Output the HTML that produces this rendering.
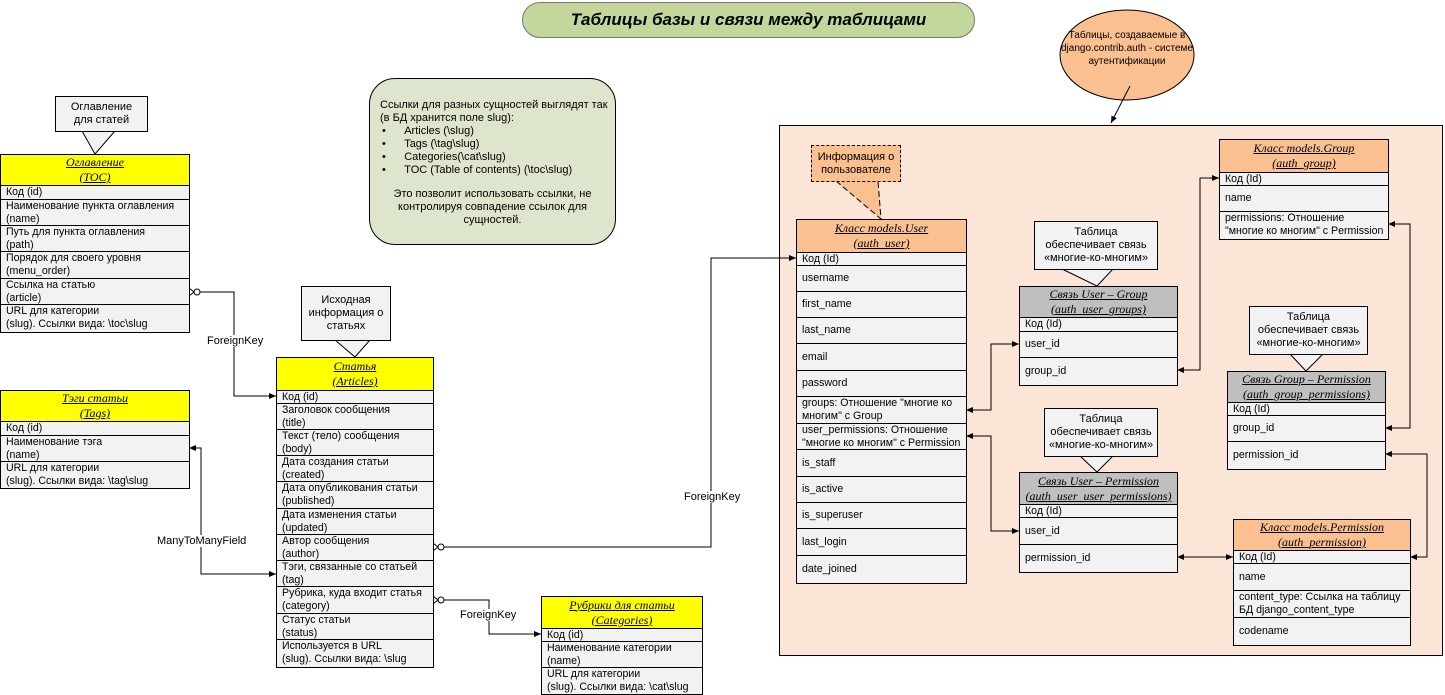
<!DOCTYPE html>
<html><head><meta charset="utf-8">
<style>
body{margin:0;width:1445px;height:695px;background:#fff;position:relative;overflow:hidden;font-family:"Liberation Sans",Arial,sans-serif;font-size:11px;color:#000}
.a{position:absolute;box-sizing:border-box}
.t{position:absolute;border:1px solid #000;background:#f2f2f2;box-sizing:border-box}
.t>div{box-sizing:border-box;border-bottom:1px solid #000;padding:0 0 0 5px;line-height:13px;overflow:hidden;white-space:nowrap;font-size:10.6px}
.t>div:last-child{border-bottom:none}
.t>.h{padding:0;text-align:center;font-family:"Liberation Serif",serif;font-style:italic;text-decoration:underline;font-size:12px;line-height:15px;display:flex;flex-direction:column;justify-content:center}
.y{background:#ffff00}.o{background:#fac090}.g{background:#bfbfbf}
.c{display:flex;align-items:center}
.cb{position:absolute;border:1px solid #000;background:#f2f2f2;text-align:center;line-height:13px;box-sizing:border-box;display:flex;align-items:center;justify-content:center}
.lbl{position:absolute;background:#fff;font-size:11px;line-height:12px}
</style></head><body>

<div class="a" style="left:522px;top:2px;width:453px;height:36px;border:1px solid #777;border-radius:18px;background:#c3d69b;text-align:center;line-height:34px;font-weight:bold;font-style:italic;font-size:17px">Таблицы базы и связи между таблицами</div>

<div class="a" style="left:779px;top:125px;width:664px;height:531px;border:1px solid #000;background:#fbe5d6"></div>

<div class="a" style="left:369px;top:78px;width:247px;height:167px;border:1px solid #000;border-radius:26px;background:#dde6cc;padding:20px 0 0 10px;line-height:13px;font-size:11px">
Ссылки для разных сущностей выглядят так<br>(в БД хранится поле slug):<br>
<span style="padding-left:2px">•&nbsp;&nbsp;&nbsp;&nbsp;&nbsp;&nbsp;Articles (\slug)</span><br>
<span style="padding-left:2px">•&nbsp;&nbsp;&nbsp;&nbsp;&nbsp;&nbsp;Tags (\tag\slug)</span><br>
<span style="padding-left:2px">•&nbsp;&nbsp;&nbsp;&nbsp;&nbsp;&nbsp;Categories(\cat\slug)</span><br>
<span style="padding-left:2px">•&nbsp;&nbsp;&nbsp;&nbsp;&nbsp;&nbsp;TOC (Table of contents) (\toc\slug)</span><br>
<div style="text-align:center;margin-top:11px;padding-right:10px">Это позволит использовать ссылки, не контролируя совпадение ссылок для сущностей.</div>
</div>

<svg class="a" style="left:0;top:0" width="1445" height="695">
<defs><marker id="ar" markerWidth="8" markerHeight="8" refX="7" refY="4" orient="auto" markerUnits="userSpaceOnUse"><path d="M0,1 L7,4 L0,7z" fill="#000"/></marker></defs>
<ellipse cx="1127" cy="55" rx="67" ry="45" fill="#fac090" stroke="#000"/>
<line x1="1130" y1="86" x2="1111" y2="123" stroke="#000" marker-end="url(#ar)"/>
<polygon points="82,131 95,154 115,131" fill="#f2f2f2" stroke="#000"/>
<polygon points="335,340 355,357 370,340" fill="#f2f2f2" stroke="#000"/>
<polygon points="836,181 881,219 878,181" fill="#fac090" stroke="#000" stroke-dasharray="6,3"/>
<polygon points="1062,269 1097,286 1113,269" fill="#f2f2f2" stroke="#000"/>
<polygon points="1290,354 1306,371 1323,354" fill="#f2f2f2" stroke="#000"/>
<polygon points="1080,456 1097,472 1113,456" fill="#f2f2f2" stroke="#000"/>
<g fill="none" stroke="#000">
<polyline points="194,292 234,292 234,396 276,396" marker-end="url(#ar)"/>
<polyline points="276,574 201,574 201,448 189,448" marker-end="url(#ar)"/>
<line x1="201" y1="574" x2="276" y2="574" marker-end="url(#ar)"/>
<polyline points="438,547 711,547 711,258 796,258" marker-end="url(#ar)"/>
<polyline points="438,600 489,600 489,634 541,634" marker-end="url(#ar)"/>
<polyline points="1019,344 991,344 991,410 966,410" marker-end="url(#ar)"/>
<line x1="991" y1="344" x2="1019" y2="344" marker-end="url(#ar)"/>
<polyline points="1019,531 991,531 991,436 966,436" marker-end="url(#ar)"/>
<line x1="991" y1="531" x2="1019" y2="531" marker-end="url(#ar)"/>
<polyline points="1219,178 1200,178 1200,370 1177,370" marker-end="url(#ar)"/>
<line x1="1200" y1="178" x2="1219" y2="178" marker-end="url(#ar)"/>
<polyline points="1385,428 1410,428 1410,224 1388,224" marker-end="url(#ar)"/>
<line x1="1410" y1="428" x2="1385" y2="428" marker-end="url(#ar)"/>
<polyline points="1410,557 1427,557 1427,454 1385,454" marker-end="url(#ar)"/>
<line x1="1427" y1="557" x2="1410" y2="557" marker-end="url(#ar)"/>
<line x1="1205" y1="557" x2="1177" y2="557" marker-end="url(#ar)"/>
<line x1="1205" y1="557" x2="1233" y2="557" marker-end="url(#ar)"/>
<circle cx="197" cy="292" r="3" fill="#fff"/><path d="M189,288 L194,292 L189,296"/>
<circle cx="441" cy="547" r="3" fill="#fff"/><path d="M433,543 L438,547 L433,551"/>
<circle cx="441" cy="600" r="3" fill="#fff"/><path d="M433,596 L438,600 L433,604"/>
</g>
</svg>
<div class="lbl" style="left:207px;top:335px">ForeignKey</div>
<div class="lbl" style="left:157px;top:535px">ManyToManyField</div>
<div class="lbl" style="left:684px;top:491px">ForeignKey</div>
<div class="lbl" style="left:460px;top:609px">ForeignKey</div>
<div class="a" style="left:1057px;top:29px;width:140px;text-align:center;font-size:10px;line-height:13px">Таблицы, создаваемые в<br>django.contrib.auth - системе<br>аутентификации</div>

<div class="cb" style="left:55px;top:96px;width:93px;height:36px">Оглавление<br>для статей</div>
<div class="cb" style="left:301px;top:286px;width:90px;height:55px">Исходная<br>информация о<br>статьях</div>
<div class="cb" style="left:811px;top:145px;width:90px;height:37px;background:#fac090;border:1px dashed #000">Информация о<br>пользователе</div>
<div class="cb" style="left:1034px;top:221px;width:124px;height:49px">Таблица<br>обеспечивает связь<br>«многие-ко-многим»</div>
<div class="cb" style="left:1249px;top:306px;width:119px;height:49px">Таблица<br>обеспечивает связь<br>«многие-ко-многим»</div>
<div class="cb" style="left:1044px;top:408px;width:114px;height:49px">Таблица<br>обеспечивает связь<br>«многие-ко-многим»</div>

<div class="t" style="left:0;top:154px;width:190px">
<div class="h y" style="height:31px"><span>Оглавление</span><span>(TOC)</span></div>
<div style="height:14px">Код (id)</div>
<div style="height:26px">Наименование пункта оглавления<br>(name)</div>
<div style="height:26px">Путь для пункта оглавления<br>(path)</div>
<div style="height:27px">Порядок для своего уровня<br>(menu_order)</div>
<div style="height:26px">Ссылка на статью<br>(article)</div>
<div style="height:27px">URL для категории<br>(slug). Ссылки вида: \toc\slug</div>
</div>

<div class="t" style="left:0;top:390px;width:190px">
<div class="h y" style="height:31px"><span>Тэги статьи</span><span>(Tags)</span></div>
<div style="height:14px">Код (id)</div>
<div style="height:26px">Наименование тэга<br>(name)</div>
<div style="height:26px">URL для категории<br>(slug). Ссылки вида: \tag\slug</div>
</div>

<div class="t" style="left:276px;top:357px;width:158px">
<div class="h y" style="height:33px"><span>Статья</span><span>(Articles)</span></div>
<div style="height:13px">Код (id)</div>
<div style="height:26px">Заголовок сообщения<br>(title)</div>
<div style="height:26px">Текст (тело) сообщения<br>(body)</div>
<div style="height:26px">Дата создания статьи<br>(created)</div>
<div style="height:27px">Дата опубликования статьи<br>(published)</div>
<div style="height:26px">Дата изменения статьи<br>(updated)</div>
<div style="height:26px">Автор сообщения<br>(author)</div>
<div style="height:26px">Тэги, связанные со статьей<br>(tag)</div>
<div style="height:27px">Рубрика, куда входит статья<br>(category)</div>
<div style="height:26px">Статус статьи<br>(status)</div>
<div style="height:27px">Используется в URL<br>(slug). Ссылки вида: \slug</div>
</div>

<div class="t" style="left:541px;top:596px;width:162px">
<div class="h y" style="height:32px"><span>Рубрики для статьи</span><span>(Categories)</span></div>
<div style="height:13px">Код (id)</div>
<div style="height:26px">Наименование категории<br>(name)</div>
<div style="height:26px">URL для категории<br>(slug). Ссылки вида: \cat\slug</div>
</div>

<div class="t" style="left:796px;top:219px;width:171px">
<div class="h o" style="height:33px"><span>Класс models.User</span><span>(auth_user)</span></div>
<div style="height:13px">Код (Id)</div>
<div class="c" style="height:26px">username</div>
<div class="c" style="height:26px">first_name</div>
<div class="c" style="height:26px">last_name</div>
<div class="c" style="height:27px">email</div>
<div class="c" style="height:26px">password</div>
<div style="height:27px">groups: Отношение "многие ко<br>многим" с Group</div>
<div style="height:26px">user_permissions: Отношение<br>"многие ко многим" с Permission</div>
<div class="c" style="height:27px">is_staff</div>
<div class="c" style="height:26px">is_active</div>
<div class="c" style="height:26px">is_superuser</div>
<div class="c" style="height:27px">last_login</div>
<div class="c" style="height:27px">date_joined</div>
</div>

<div class="t" style="left:1019px;top:286px;width:159px">
<div class="h g" style="height:31px"><span>Связь User – Group</span><span>(auth_user_groups)</span></div>
<div style="height:14px">Код (Id)</div>
<div class="c" style="height:26px">user_id</div>
<div class="c" style="height:27px">group_id</div>
</div>

<div class="t" style="left:1219px;top:139px;width:170px">
<div class="h o" style="height:33px"><span>Класс models.Group</span><span>(auth_group)</span></div>
<div style="height:13px">Код (Id)</div>
<div class="c" style="height:26px">name</div>
<div style="height:27px">permissions: Отношение<br>"многие ко многим" с Permission</div>
</div>

<div class="t" style="left:1227px;top:371px;width:159px">
<div class="h g" style="height:31px"><span>Связь Group – Permission</span><span>(auth_group_permissions)</span></div>
<div style="height:13px">Код (Id)</div>
<div class="c" style="height:26px">group_id</div>
<div class="c" style="height:27px">permission_id</div>
</div>

<div class="t" style="left:1019px;top:472px;width:159px">
<div class="h g" style="height:32px"><span>Связь User – Permission</span><span>(auth_user_user_permissions)</span></div>
<div style="height:13px">Код (Id)</div>
<div class="c" style="height:27px">user_id</div>
<div class="c" style="height:27px">permission_id</div>
</div>

<div class="t" style="left:1233px;top:519px;width:178px">
<div class="h o" style="height:31px"><span>Класс models.Permission</span><span>(auth_permission)</span></div>
<div style="height:13px">Код (Id)</div>
<div class="c" style="height:27px">name</div>
<div style="height:27px">content_type: Ссылка на таблицу<br>БД django_content_type</div>
<div class="c" style="height:27px">codename</div>
</div>

</body></html>
